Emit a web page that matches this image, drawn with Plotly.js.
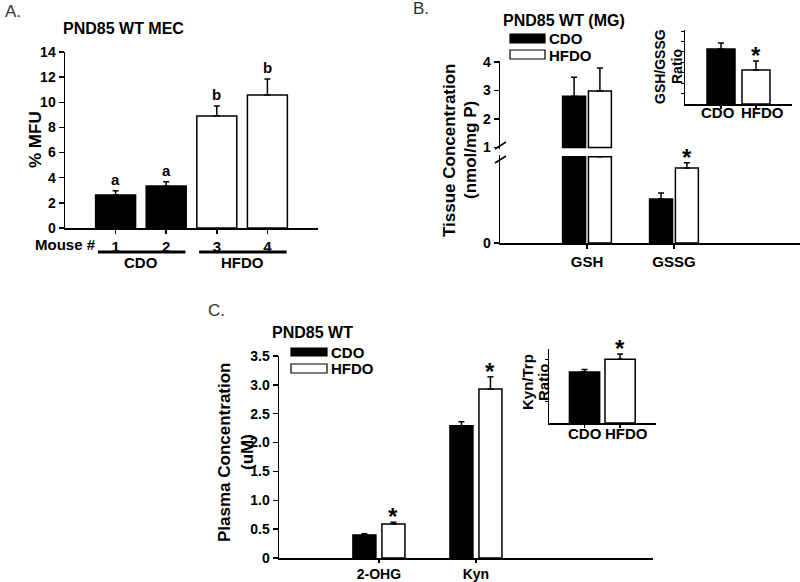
<!DOCTYPE html>
<html>
<head>
<meta charset="utf-8">
<script src="https://cdn.plot.ly/plotly-3.0.1.min.js"></script>
<style>html,body{margin:0;padding:0;background:#fff}#chart{width:800px;height:582px}</style>
</head>
<body>
<div id="chart"></div>
<script>
// ---------- DATA ----------
// Panel A: PND85 WT MEC
const mouseIds = [1, 2, 3, 4];
const mouseGroups = ['CDO', 'CDO', 'HFDO', 'HFDO'];
const mfuValues = [2.63, 3.34, 8.9, 10.58];
const mfuErrors = [0.34, 0.34, 0.8, 1.27];
const mfuLetters = ['a', 'a', 'b', 'b'];

// Panel B: PND85 WT (MG) tissue concentration (nmol/mg P)
const tissueCats = ['GSH', 'GSSG'];
const tissueCDO = [2.8, 0.51];
const tissueCDOErr = [0.67, 0.07];
const tissueHFDO = [2.98, 0.87];
const tissueHFDOErr = [0.81, 0.06];
const tissueStars = ['', '*'];
const axisBreak = 1;            // y-axis break value

// Panel B inset: GSH/GSSG ratio
const ratioCats = ['CDO', 'HFDO'];
const gshGssgRatio = [5.27, 3.26];
const gshGssgErr = [0.58, 0.86];
const gshGssgStars = ['', '*'];

// Panel C: PND85 WT plasma concentration (uM)
const plasmaCats = ['2-OHG', 'Kyn'];
const plasmaCDO = [0.40, 2.29];
const plasmaCDOErr = [0.02, 0.07];
const plasmaHFDO = [0.59, 2.93];
const plasmaHFDOErr = [0.03, 0.21];
const plasmaStars = ['*', '*'];
const plasmaTicks = [0, 0.5, 1.0, 1.5, 2.0, 2.5, 3.0, 3.5];
const plasmaTickText = ['0', '0.5', '1.0', '1.5', '2.0', '2.5', '3.0', '3.5'];

// Panel C inset: Kyn/Trp ratio
const kynTrpRatio = [2.39, 2.99];
const kynTrpErr = [0.12, 0.24];
const kynTrpStars = ['', '*'];

// ---------- HELPERS ----------
const W = 800, H = 582;
const px = x => x / W;
const py = y => 1 - y / H;
const FONT = 'Liberation Sans, Arial, Helvetica, sans-serif';
const bold = (s) => ({family: FONT, size: s, color: '#000', weight: 700});
const BLACK = '#000', WHITE = '#fff';
const LW = 1.5;

function errY(err) {
  return {type: 'data', array: err, arrayminus: err.map(() => 0), symmetric: false,
          color: BLACK, thickness: LW, width: 3};
}
function barTrace(x, y, err, fill, xa, ya, width, offset, base) {
  const t = {
    type: 'bar', x: x, y: y, xaxis: xa, yaxis: ya,
    width: width, offset: offset,
    marker: {color: fill, line: {color: BLACK, width: LW}},
    showlegend: false, hoverinfo: 'skip'
  };
  if (base !== undefined) t.base = base;
  if (err) t.error_y = errY(err);
  return t;
}

const idx = a => a.map((_, i) => i);
const traces = [];

// Panel A
traces.push({
  type: 'bar', x: mouseIds, y: mfuValues, xaxis: 'x', yaxis: 'y', width: 0.79,
  marker: {color: mouseGroups.map(g => g === 'CDO' ? BLACK : WHITE), line: {color: BLACK, width: LW}},
  error_y: errY(mfuErrors), showlegend: false, hoverinfo: 'skip'
});

// Panel B main (broken axis)
const bx = idx(tissueCats);
const bw = 0.264, bOffC = -0.28, bOffH = 0.017;
// upper segment: only the part above the break
const upIdx = bx.filter(i => tissueCDO[i] > axisBreak || tissueHFDO[i] > axisBreak);
traces.push(barTrace(upIdx, upIdx.map(i => tissueCDO[i] - axisBreak), upIdx.map(i => tissueCDOErr[i]), BLACK, 'x2', 'y2', bw, bOffC, axisBreak));
traces.push(barTrace(upIdx, upIdx.map(i => tissueHFDO[i] - axisBreak), upIdx.map(i => tissueHFDOErr[i]), WHITE, 'x2', 'y2', bw, bOffH, axisBreak));
// lower segment: clipped at the break
traces.push(barTrace(bx, tissueCDO.map(v => Math.min(v, axisBreak)), tissueCDO.map((v, i) => v > axisBreak ? 0 : tissueCDOErr[i]), BLACK, 'x2', 'y3', bw, bOffC));
traces.push(barTrace(bx, tissueHFDO.map(v => Math.min(v, axisBreak)), tissueHFDO.map((v, i) => v > axisBreak ? 0 : tissueHFDOErr[i]), WHITE, 'x2', 'y3', bw, bOffH));

// Panel B inset
traces.push({
  type: 'bar', x: idx(ratioCats), y: gshGssgRatio, xaxis: 'x3', yaxis: 'y4', width: 0.8,
  marker: {color: [BLACK, WHITE], line: {color: BLACK, width: LW}},
  error_y: errY(gshGssgErr), showlegend: false, hoverinfo: 'skip'
});

// Panel C main
const cx = idx(plasmaCats);
const cw = 0.237, cOffC = -0.268, cOffH = 0.031;
traces.push(barTrace(cx, plasmaCDO, plasmaCDOErr, BLACK, 'x4', 'y5', cw, cOffC));
traces.push(barTrace(cx, plasmaHFDO, plasmaHFDOErr, WHITE, 'x4', 'y5', cw, cOffH));

// Panel C inset
traces.push({
  type: 'bar', x: idx(ratioCats), y: kynTrpRatio, xaxis: 'x5', yaxis: 'y6', width: 0.85,
  marker: {color: [BLACK, WHITE], line: {color: BLACK, width: LW}},
  error_y: errY(kynTrpErr), showlegend: false, hoverinfo: 'skip'
});

// ---------- AXES ----------
const baseAx = {showgrid: false, zeroline: false, showline: true, linecolor: BLACK, linewidth: LW,
                ticks: 'outside', tickcolor: BLACK, tickwidth: LW, ticklen: 5, tickangle: 0, fixedrange: true};

const layout = {
  width: W, height: H, margin: {l: 0, r: 0, t: 0, b: 0},
  paper_bgcolor: '#fff', plot_bgcolor: 'rgba(0,0,0,0)', barmode: 'overlay',
  showlegend: false,
  xaxis: Object.assign({}, baseAx, {domain: [px(65), px(318)], range: [0, 5], tickvals: mouseIds, ticktext: mouseIds.map(String), tickfont: bold(15), ticklen: 4, anchor: 'y'}),
  yaxis: Object.assign({}, baseAx, {domain: [py(228), py(52)], range: [0, 14], dtick: 2, tickfont: bold(14), anchor: 'x'}),

  xaxis2: Object.assign({}, baseAx, {domain: [px(500), 1], range: [-1, 2.45], tickvals: bx, ticktext: tissueCats, tickfont: bold(15), ticklen: 4, anchor: 'y3'}),
  yaxis2: Object.assign({}, baseAx, {domain: [py(149), py(60.6)], range: [0.95, 4.05], tickvals: [1, 2, 3, 4], tickfont: bold(14), anchor: 'x2'}),
  yaxis3: Object.assign({}, baseAx, {domain: [py(243), py(155)], range: [0, 1.02], tickvals: [0], tickfont: bold(14), anchor: 'x2'}),

  xaxis3: Object.assign({}, baseAx, {domain: [px(685), px(792)], range: [-1.03, 2.03], tickvals: [0, 1], showticklabels: false, ticklen: 3, anchor: 'y4'}),
  yaxis4: Object.assign({}, baseAx, {domain: [py(104), py(30)], range: [0, 7.1], tickvals: [1, 2, 3, 4, 5, 6, 7], showticklabels: false, ticklen: 3, tickwidth: 1, anchor: 'x3'}),

  xaxis4: Object.assign({}, baseAx, {domain: [px(279), px(653)], range: [-1.03, 2.825], tickvals: cx, ticktext: plasmaCats, tickfont: bold(14), ticklen: 3, anchor: 'y5'}),
  yaxis5: Object.assign({}, baseAx, {domain: [py(558), py(356)], range: [0, 3.5], tickvals: plasmaTicks, ticktext: plasmaTickText, tickfont: bold(14), anchor: 'x4'}),

  xaxis5: Object.assign({}, baseAx, {domain: [px(549), px(656)], range: [-1, 2.01], tickvals: [0, 1], showticklabels: false, ticklen: 3, anchor: 'y6'}),
  yaxis6: Object.assign({}, baseAx, {domain: [py(423), py(349)], range: [0, 3.47], tickvals: [1, 2, 3], showticklabels: false, ticklen: 3, tickwidth: 1, anchor: 'x5'}),
  annotations: [],
  shapes: []
};

const ann = layout.annotations, shp = layout.shapes;
function paperText(text, x, y, font, opts) {
  ann.push(Object.assign({text: text, xref: 'paper', yref: 'paper', x: px(x), y: py(y), showarrow: false,
    xanchor: 'center', yanchor: 'middle', font: font}, opts || {}));
}
function rectShape(x0, y0, x1, y1, fill) {
  shp.push({type: 'rect', xref: 'paper', yref: 'paper', x0: px(x0), x1: px(x1), y0: py(y0), y1: py(y1),
    fillcolor: fill, line: {color: BLACK, width: 1.2}});
}
function lineShape(x0, y0, x1, y1, w) {
  shp.push({type: 'line', xref: 'paper', yref: 'paper', x0: px(x0), x1: px(x1), y0: py(y0), y1: py(y1),
    line: {color: BLACK, width: w}});
}
function markText(text, xa, ya, x, y, size, yshift) {
  ann.push({text: text, xref: xa, yref: ya, x: x, y: y, showarrow: false, xanchor: 'center', yanchor: 'bottom',
    yshift: yshift, font: bold(size)});
}
function catLabel(text, xa, x, yPix, xshift) {
  ann.push({text: text, xref: xa, yref: 'paper', x: x, y: py(yPix), showarrow: false, xanchor: 'center', yanchor: 'middle',
    xshift: xshift || 0, font: bold(15)});
}

// Panel letters
const panelFont = {family: FONT, size: 17, color: '#333'};
paperText('A.', 3, 11, panelFont, {xanchor: 'left'});
paperText('B.', 411, 9, panelFont, {xanchor: 'left'});
paperText('C.', 206, 310, panelFont, {xanchor: 'left'});

// Panel A texts
paperText('PND85 WT MEC', 123, 28, bold(16));
paperText('% MFU', 35, 140, bold(17), {textangle: -90});
paperText('Mouse #', 65, 244, bold(15));
mouseIds.forEach((m, i) => markText(mfuLetters[i], 'x', 'y', m, mfuValues[i] + mfuErrors[i], 15, 1));
// group underlines
['CDO', 'HFDO'].forEach(g => {
  const ids = mouseIds.filter((m, i) => mouseGroups[i] === g);
  const a = Math.min(...ids), b = Math.max(...ids);
  shp.push({type: 'line', xref: 'x', yref: 'paper', x0: a - 0.35, x1: b + 0.38, y0: py(252), y1: py(252), line: {color: BLACK, width: 3}});
  ann.push({text: g, xref: 'x', yref: 'paper', x: (a + b) / 2, y: py(263), showarrow: false, xanchor: 'center', yanchor: 'middle', font: bold(15)});
});

// Panel B texts
paperText('PND85 WT (MG)', 564, 21, bold(16));
rectShape(510, 34, 545, 43, BLACK);
rectShape(510, 50, 545, 59, WHITE);
paperText('CDO', 547, 39, bold(15), {xanchor: 'left'});
paperText('HFDO', 547, 55, bold(15), {xanchor: 'left'});
paperText('Tissue Concentration', 450, 150, bold(17), {textangle: -90});
paperText('(nmol/mg P)', 471, 150, bold(17), {textangle: -90});
// axis break marks
lineShape(495, 149, 506, 142, 1.5);
lineShape(495, 163, 506, 156, 1.5);
bx.forEach(i => {
  if (tissueStars[i]) markText(tissueStars[i], 'x2', tissueHFDO[i] > axisBreak ? 'y2' : 'y3', i + bOffH + bw / 2,
    tissueHFDO[i] + tissueHFDOErr[i], 24, -10);
});
// inset B
paperText('GSH/GSSG', 660, 67, bold(14), {textangle: -90});
paperText('Ratio', 677, 67, bold(14), {textangle: -90});
ratioCats.forEach((c, i) => catLabel(c, 'x3', i, 113, i === 0 ? -3 : 7));
gshGssgRatio.forEach((v, i) => { if (gshGssgStars[i]) markText(gshGssgStars[i], 'x3', 'y4', i, v + gshGssgErr[i], 24, -10); });

// Panel C texts
paperText('PND85 WT', 312, 332, bold(16));
rectShape(291, 348, 327, 356, BLACK);
rectShape(291, 364, 327, 373, WHITE);
paperText('CDO', 329, 352, bold(15), {xanchor: 'left'});
paperText('HFDO', 329, 368, bold(15), {xanchor: 'left'});
paperText('Plasma Concentration', 224, 452, bold(17), {textangle: -90});
paperText('(uM)', 247, 452, bold(17), {textangle: -90});
cx.forEach(i => { if (plasmaStars[i]) markText(plasmaStars[i], 'x4', 'y5', i + cOffH + cw / 2, plasmaHFDO[i] + plasmaHFDOErr[i], 24, -10); });
// inset C
paperText('Kyn/Trp', 527, 382, bold(15), {textangle: -90});
paperText('Ratio', 543, 382, bold(15), {textangle: -90});
ratioCats.forEach((c, i) => catLabel(c, 'x5', i, 433, i === 0 ? 0 : 6));
kynTrpRatio.forEach((v, i) => { if (kynTrpStars[i]) markText(kynTrpStars[i], 'x5', 'y6', i, v + kynTrpErr[i], 24, -10); });

Plotly.newPlot('chart', traces, layout, {staticPlot: true, displayModeBar: false});
</script>
</body>
</html>
